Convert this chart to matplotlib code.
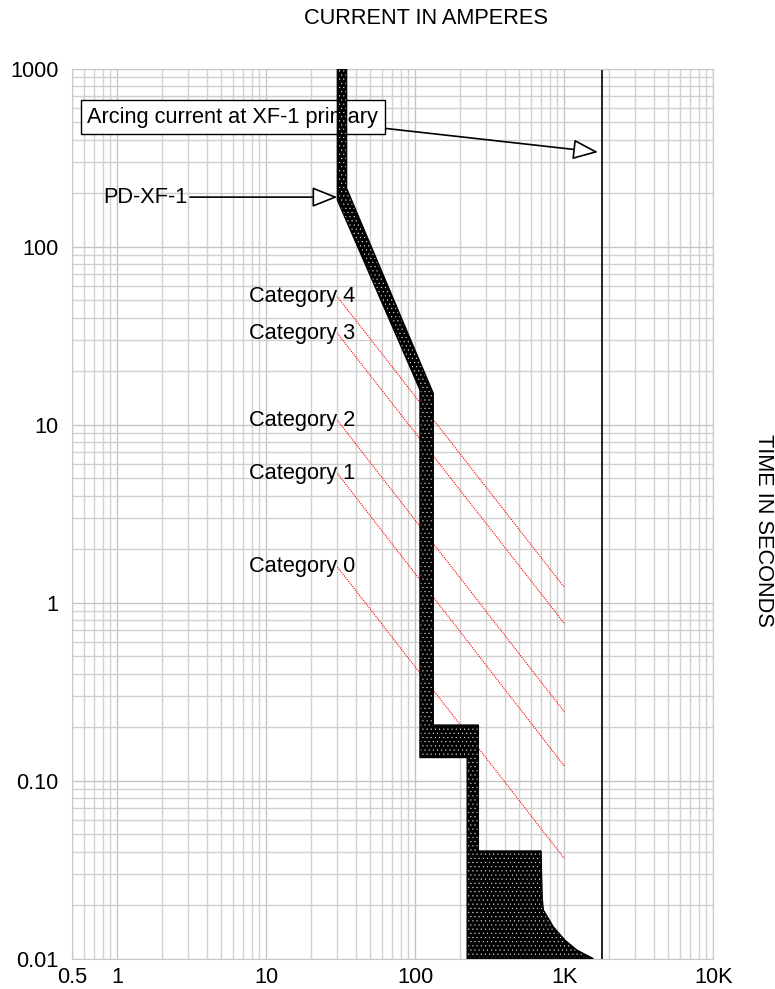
import matplotlib
matplotlib.use("Agg")
import matplotlib.pyplot as plt
from matplotlib.patches import Polygon
from matplotlib.ticker import FixedLocator, NullFormatter

plt.rcParams['font.family'] = ['Liberation Sans', 'DejaVu Sans']
plt.rcParams['hatch.linewidth'] = 0.25

# fuse band PD-XF-1 (current A, time s), outline traced clockwise
band_amps = [30, 34.6, 34.6, 132, 132, 265, 265, 698, 703, 712, 723, 844,
             1011, 1211, 1566, 223, 223, 107.5, 107.5, 30]
band_secs = [1200, 1200, 213, 15.0, 0.2055, 0.2055, 0.0403, 0.0403, 0.030,
             0.0215, 0.0188, 0.0151, 0.0127, 0.0112, 0.0100, 0.0100, 0.135,
             0.135, 15.7, 183]

# arc flash category boundaries
cat_names = ["Category 0", "Category 1", "Category 2", "Category 3", "Category 4"]
cat_amps = [30, 1000]
cat_start = [1.59, 5.33, 10.6, 32.6, 52.4]
cat_end = [0.0366, 0.121, 0.244, 0.766, 1.22]

arcing_current = 1780

x_ticks = [0.5, 1, 10, 100, 1000, 10000]
x_labels = ["0.5", "1", "10", "100", "1K", "10K"]
y_ticks = [0.01, 0.1, 1, 10, 100, 1000]
y_labels = ["0.01", "0.10", "1", "10", "100", "1000"]

FS = 15.7

fig = plt.figure(figsize=(7.75, 9.89), dpi=100)
ax = fig.add_axes([0.0934, 0.0306, 0.827, 0.8999])
ax.set_xscale("log")
ax.set_yscale("log")
ax.set_xlim(0.5, 10000)
ax.set_ylim(0.01, 1000)

#Grid on every 1..9 of each decade
minor_x = [m * 10.0 ** e for e in range(-1, 4) for m in range(2, 10)]
minor_y = [m * 10.0 ** e for e in range(-2, 3) for m in range(2, 10)]
ax.xaxis.set_minor_locator(FixedLocator(minor_x))
ax.yaxis.set_minor_locator(FixedLocator(minor_y))
ax.xaxis.set_minor_formatter(NullFormatter())
ax.yaxis.set_minor_formatter(NullFormatter())
ax.grid(True, which="major", color="#c4c4c4", lw=1.0)
ax.grid(True, which="minor", color="#d0d0d0", lw=1.0)
ax.set_axisbelow(True)
for s in ax.spines.values():
    s.set_color("#c8c8c8")

ax.set_xticks(x_ticks)
ax.set_xticklabels(x_labels)
ax.set_yticks(y_ticks)
ax.set_yticklabels(y_labels)
ax.tick_params(which="both", length=0, labelsize=FS)
ax.tick_params(axis="y", pad=10)
ax.tick_params(axis="x", pad=6)

# category lines
for name, t0, t1 in zip(cat_names, cat_start, cat_end):
    ax.plot(cat_amps, [t0, t1], color="red", lw=0.8, ls=(0, (1, 1)), zorder=2)
    ax.text(7.65, t0, name, fontsize=FS, ha="left", va="center", zorder=2)

# arcing current line
ax.axvline(arcing_current, color="black", lw=1.2, zorder=2)

# labels with arrows
ax.annotate("Arcing current at XF-1 primary", xy=(1684, 340), xytext=(0.629, 535),
            fontsize=FS, ha="left", va="center", zorder=3,
            bbox=dict(boxstyle="square,pad=0.3", fc="white", ec="black", lw=1),
            arrowprops=dict(arrowstyle="-|>,head_length=1.0,head_width=0.4",
                            fc="white", ec="black", lw=1.2, relpos=(1, 0),
                            shrinkA=0, shrinkB=0))
ax.annotate("PD-XF-1", xy=(30, 190), xytext=(2.95, 190),
            fontsize=FS, ha="right", va="center", zorder=3,
            arrowprops=dict(arrowstyle="-|>,head_length=1.0,head_width=0.4",
                            fc="white", ec="black", lw=1.2, relpos=(1, 0.5),
                            shrinkA=0, shrinkB=0))

# the band: black with white dots, then outline
pts = list(zip(band_amps, band_secs))
ax.add_patch(Polygon(pts, closed=True, fc="black", ec="white", lw=0,
                     hatch="....", zorder=4))
ax.add_patch(Polygon(pts, closed=True, fill=False, ec="black", lw=1, zorder=4))

fig.text(425.5 / 775, 1 - 18 / 989, "CURRENT IN AMPERES", fontsize=FS,
         ha="center", va="center")
fig.text(763 / 775, 1 - 530 / 989, "TIME IN SECONDS", fontsize=FS,
         ha="center", va="center", rotation=270)

fig.savefig("out.png", dpi=100)
